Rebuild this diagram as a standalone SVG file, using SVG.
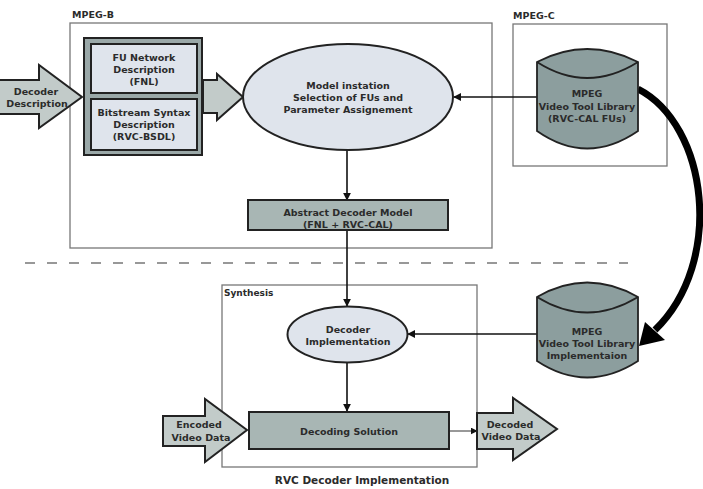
<svg xmlns="http://www.w3.org/2000/svg" width="703" height="489" viewBox="0 0 703 489">
<style>
text{font-family:"DejaVu Sans",sans-serif;font-weight:bold;font-size:9.5px;fill:#2b2b2b;text-anchor:middle;dominant-baseline:central}
.lbl{text-anchor:start;font-size:9.5px}
.frame{fill:none;stroke:#777;stroke-width:1.3}
.bigarrow{fill:#c2cbc9;stroke:#222;stroke-width:2}
.light{fill:#dfe4ec;stroke:#222;stroke-width:2}
.grey{fill:#a8b6b4;stroke:#222;stroke-width:2}
.cyl{fill:#8c9e9e;stroke:#222;stroke-width:1.8}
.conn{fill:none;stroke:#111;stroke-width:1.6}
</style>
<defs>
<marker id="ah" viewBox="0 0 10 10" refX="9" refY="5" markerWidth="8" markerHeight="8" markerUnits="userSpaceOnUse" orient="auto">
<path d="M0,0 L10,5 L0,10 z" fill="#111"/>
</marker>
<marker id="ahs" viewBox="0 0 10 10" refX="9" refY="5" markerWidth="7" markerHeight="7" markerUnits="userSpaceOnUse" orient="auto">
<path d="M0,0 L10,5 L0,10 z" fill="#111"/>
</marker>
</defs>
<rect width="703" height="489" fill="#fff"/>

<g id="mpeg-b-frame">
<rect class="frame" x="70" y="23" width="422" height="225"/>
<text class="lbl" x="72" y="14">MPEG-B</text>
</g>
<g id="mpeg-c-frame">
<rect class="frame" x="513" y="24" width="154" height="142"/>
<text class="lbl" x="513" y="15">MPEG-C</text>
</g>
<g id="synthesis-frame">
<rect class="frame" x="222" y="285" width="255" height="182"/>
<text class="lbl" x="224" y="293" style="font-size:9px">Synthesis</text>
</g>
<g id="separator">
<line x1="25" y1="263" x2="628" y2="263" stroke="#777" stroke-width="1.5" stroke-dasharray="10 12"/>
</g>

<g id="connectors">
<line class="conn" x1="537" y1="97" x2="454" y2="97" marker-end="url(#ah)"/>
<line class="conn" x1="347" y1="150" x2="347" y2="200" marker-end="url(#ah)"/>
<line class="conn" x1="347" y1="231" x2="347" y2="306" marker-end="url(#ah)"/>
<line class="conn" x1="537" y1="334" x2="408" y2="334" marker-end="url(#ah)"/>
<line class="conn" x1="347" y1="362" x2="347" y2="411" marker-end="url(#ah)"/>
<line x1="449" y1="431" x2="477" y2="431" stroke="#333" stroke-width="1" marker-end="url(#ahs)"/>
<path d="M638,89 C708,125 725,262 655,330" fill="none" stroke="#000" stroke-width="7"/>
<polygon points="639,346 645,322 665,340" fill="#000"/>
</g>

<g id="decoder-description">
<polygon class="bigarrow" points="-3,80 39,80 39,65 82,97 39,128 39,114 -3,114"/>
<text x="36" y="91">Decoder</text>
<text x="37" y="103">Description</text>
</g>

<g id="fnl-bsdl">
<rect x="84" y="38" width="118" height="117" fill="#9aa8a8" stroke="#222" stroke-width="2"/>
<rect class="light" x="91" y="44" width="106" height="49"/>
<text x="144" y="57">FU Network</text>
<text x="144" y="69">Description</text>
<text x="144" y="81">(FNL)</text>
<rect class="light" x="91" y="99" width="106" height="51"/>
<text x="144" y="112">Bitstream Syntax</text>
<text x="144" y="124">Description</text>
<text x="144" y="136">(RVC-BSDL)</text>
</g>

<g id="to-model-arrow">
<polygon class="bigarrow" points="203,80 217,80 217,74 243,97 217,120 217,113 203,113"/>
</g>

<g id="model-instantiation">
<ellipse class="light" cx="348" cy="97" rx="105" ry="53"/>
<text x="348" y="85">Model instation</text>
<text x="348" y="97">Selection of FUs and</text>
<text x="348" y="109">Parameter Assignement</text>
</g>

<g id="abstract-decoder-model">
<rect class="grey" x="248" y="200" width="200" height="30"/>
<text x="348" y="212">Abstract Decoder Model</text>
<text x="348" y="224">(FNL + RVC-CAL)</text>
</g>

<g id="vtl-rvc-cal">
<path class="cyl" d="M537,62 Q587,36 638,62 L638,131 Q587,166 537,131 Z"/>
<path d="M537,62 Q587,94 638,62" fill="none" stroke="#222" stroke-width="1.8"/>
<text x="587" y="93">MPEG</text>
<text x="587" y="106">Video Tool Library</text>
<text x="587" y="118">(RVC-CAL FUs)</text>
</g>

<g id="vtl-implementation">
<path class="cyl" d="M537,297 Q587,268 638,297 L638,361 Q587,394 537,361 Z"/>
<path d="M537,297 Q587,328 638,297" fill="none" stroke="#222" stroke-width="1.8"/>
<text x="587" y="331">MPEG</text>
<text x="587" y="343">Video Tool Library</text>
<text x="587" y="355">Implementaion</text>
</g>

<g id="decoder-implementation">
<ellipse class="light" cx="347.5" cy="334.5" rx="60" ry="28"/>
<text x="348" y="329">Decoder</text>
<text x="348" y="341">Implementation</text>
</g>

<g id="decoding-solution">
<rect class="grey" x="249" y="412" width="200" height="37"/>
<text x="349" y="431">Decoding Solution</text>
</g>

<g id="encoded-video-data">
<polygon class="bigarrow" points="163,416 205,416 205,399 247,430 205,462 205,446 163,446"/>
<text x="199" y="424">Encoded</text>
<text x="201" y="437">Video Data</text>
</g>

<g id="decoded-video-data">
<polygon class="bigarrow" points="477,413 513,413 513,398 557,429 513,460 513,449 477,449"/>
<text x="510" y="424">Decoded</text>
<text x="511" y="436">Video Data</text>
</g>

<g id="caption">
<text x="362" y="480" style="font-size:10.5px">RVC Decoder Implementation</text>
</g>
</svg>
